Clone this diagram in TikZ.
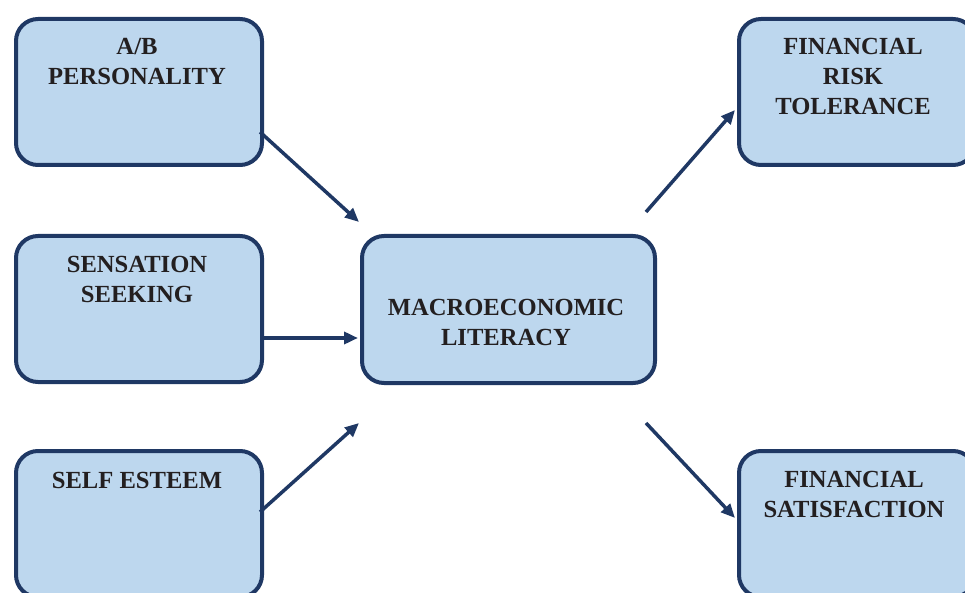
\documentclass[tikz,border=0pt]{standalone}
\usepackage{fontspec}
\setmainfont{Liberation Serif}
\usetikzlibrary{arrows.meta}
\definecolor{boxfill}{HTML}{BDD7EE}
\definecolor{navy}{HTML}{1F3864}
\definecolor{ink}{HTML}{231F20}
\tikzset{
  box/.style={draw=navy, fill=boxfill, line width=4pt, rounded corners=22pt, anchor=north west, inner sep=0pt},
  lbl/.style={text=ink, font=\bfseries\fontsize{24.6}{30}\selectfont, align=center, anchor=base, inner sep=0pt},
  conn/.style={draw=navy, line width=3.5pt, -{Triangle[length=14pt,width=12pt]}}
}
\begin{document}
\begin{tikzpicture}[x=1pt,y=-1pt]
\useasboundingbox (0,0) rectangle (965,593);
\clip (0,0) rectangle (965,593);
% boxes
\node[box, minimum width=246pt, minimum height=146pt] (ab) at (14,17) {};
\node[box, minimum width=246pt, minimum height=146pt] (ss) at (14,234) {};
\node[box, minimum width=246pt, minimum height=146pt] (se) at (14,449) {};
\node[box, minimum width=293pt, minimum height=147pt] (ml) at (360,234) {};
\node[box, minimum width=236pt, minimum height=146pt] (rt) at (737,17) {};
\node[box, minimum width=236pt, minimum height=146pt] (fs) at (737,449) {};
% labels (base anchor = baseline of last line)
\node[lbl] (abt) at (137,85) {A/B\\PERSONALITY};
\node[lbl] (sst) at (137,302) {SENSATION\\SEEKING};
\node[lbl] (set) at (137,488) {SELF ESTEEM};
\node[lbl] (mlt) at (506,345) {MACROECONOMIC\\LITERACY};
\node[lbl] (rtt) at (853,115) {FINANCIAL\\RISK\\TOLERANCE};
\node[lbl] (fst) at (854,517) {FINANCIAL\\SATISFACTION};
% connector end points
\coordinate (a1s) at (260,132);
\coordinate (a1e) at (359,222);
\coordinate (a2s) at (260,338);
\coordinate (a2e) at (358,338);
\coordinate (a3s) at (260,512);
\coordinate (a3e) at (359,423);
\coordinate (a4s) at (646,212);
\coordinate (a4e) at (735,110);
\coordinate (a5s) at (646,423);
\coordinate (a5e) at (735,518);
\draw[conn] (a1s) -- (a1e);
\draw[conn] (a2s) -- (a2e);
\draw[conn] (a3s) -- (a3e);
\draw[conn] (a4s) -- (a4e);
\draw[conn] (a5s) -- (a5e);
\end{tikzpicture}
\end{document}
